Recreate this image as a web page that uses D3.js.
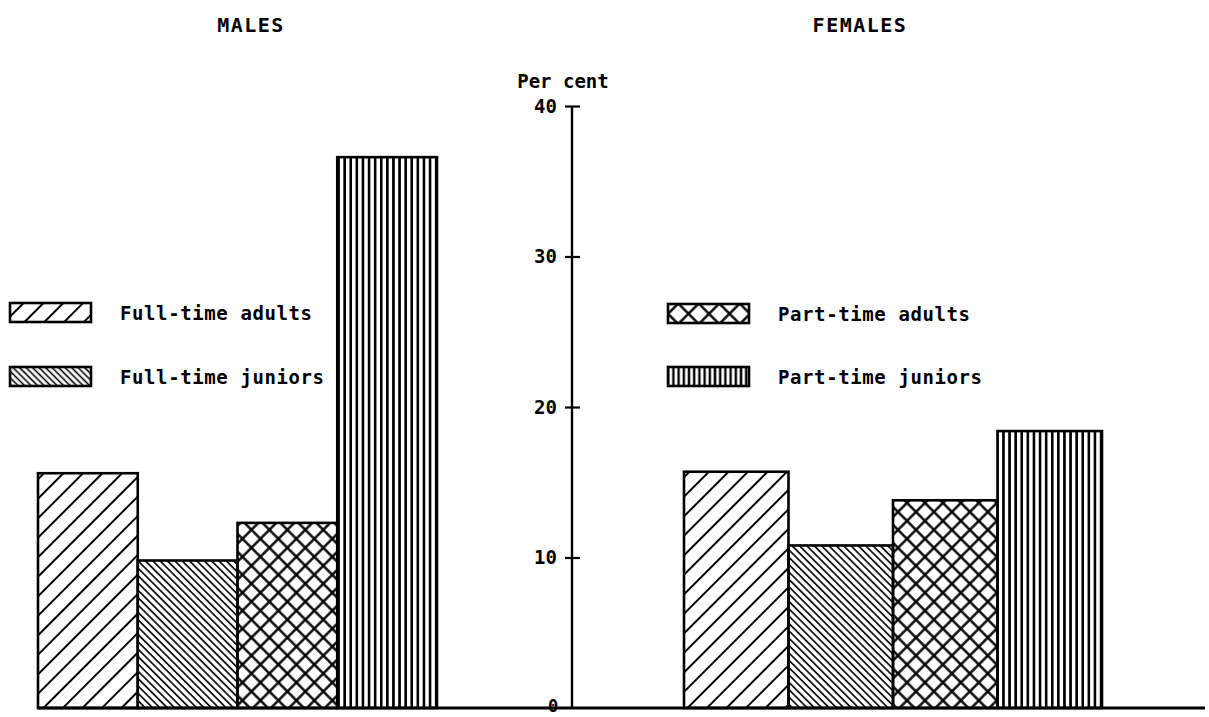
<!DOCTYPE html>
<html><head><meta charset="utf-8">
<script src="https://cdn.jsdelivr.net/npm/d3@7"></script>
<style>body{margin:0;background:#fff}svg{display:block}</style>
</head><body>
<script>
const categories = ["Full-time adults","Full-time juniors","Part-time adults","Part-time juniors"];
const maleValues = [15.6, 9.8, 12.3, 36.6];
const femaleValues = [15.7, 10.8, 13.8, 18.4];
const yTicks = [0, 10, 20, 30, 40];
const groupTitles = ["MALES", "FEMALES"];
const yTitle = "Per cent";

const W = 1209, H = 717;
const svg = d3.select("body").append("svg").attr("width", W).attr("height", H);
const FONT = "'DejaVu Sans Mono', 'Liberation Mono', monospace";

const defs = svg.append("defs");
function linePat(id, spacing, angle, sw) {
  const p = defs.append("pattern").attr("id", id).attr("patternUnits", "userSpaceOnUse")
    .attr("width", spacing).attr("height", spacing).attr("patternTransform", `rotate(${angle})`);
  p.append("line").attr("x1", spacing/2).attr("x2", spacing/2).attr("y1", -1).attr("y2", spacing+1)
    .attr("stroke", "#000").attr("stroke-width", sw);
}
function crossPat(id, s, sw, tx, ty) {
  const p = defs.append("pattern").attr("id", id).attr("patternUnits", "userSpaceOnUse")
    .attr("width", s).attr("height", s).attr("patternTransform", `translate(${tx},${ty}) rotate(45)`);
  p.append("line").attr("x1", s/2).attr("x2", s/2).attr("y1", -1).attr("y2", s+1).attr("stroke", "#000").attr("stroke-width", sw);
  p.append("line").attr("y1", s/2).attr("y2", s/2).attr("x1", -1).attr("x2", s+1).attr("stroke", "#000").attr("stroke-width", sw);
}
linePat("p0", 13.8, 45, 2);
linePat("p1", 5.2, -45, 1.6);
crossPat("p2", 12.7, 2.4, 0, 0);
linePat("p3", 6.1, 0, 2.6);
const patIds = ["p0","p1","p2","p3"];
// legend variants
linePat("l0", 14, 45, 2);
linePat("l1", 4.6, -45, 1.6);
crossPat("l2", 14.5, 2.4, 668, 303.5);
linePat("l3", 5.2, 0, 2.4);
const legIds = ["l0","l1","l2","l3"];

const y = d3.scaleLinear().domain([0, 40]).range([708, 106]);
const xM = d3.scaleBand().domain(categories).range([38, 437]).paddingInner(0);
const xF = d3.scaleBand().domain(categories).range([684, 1102]).paddingInner(0);

function drawGroup(xs, vals) {
  svg.append("g").selectAll("rect").data(categories).join("rect")
    .attr("x", d => xs(d)).attr("width", xs.bandwidth())
    .attr("y", (d,i) => y(vals[i])).attr("height", (d,i) => y(0) - y(vals[i]))
    .attr("fill", (d,i) => `url(#${patIds[i]})`)
    .attr("stroke", "#000").attr("stroke-width", 2.6);
}
drawGroup(xM, maleValues);
drawGroup(xF, femaleValues);

// baseline
svg.append("line").attr("x1", 38).attr("x2", 1205).attr("y1", y(0)).attr("y2", y(0))
  .attr("stroke", "#000").attr("stroke-width", 2.8);

// axis
const ax = svg.append("g").attr("transform", "translate(572,0)")
  .call(d3.axisLeft(y).tickValues(yTicks.filter(t => t > 0)).tickSizeInner(7).tickSizeOuter(0).tickPadding(8).tickFormat(d3.format("d")));
ax.select(".domain").attr("stroke-width", 2.4).attr("d", `M0,${y(0)}V${y(40)}`);
ax.selectAll(".tick line").attr("x1", 8).attr("x2", -7).attr("stroke-width", 2.2);
ax.selectAll(".tick text").attr("font-family", FONT).attr("font-weight", "bold").attr("font-size", 19).attr("fill", "#000");
svg.append("text").attr("x", 553).attr("y", y(0) - 2).attr("dy", "0.35em").attr("text-anchor", "middle")
  .attr("font-family", FONT).attr("font-weight", "bold").attr("font-size", 17).text(d3.format("d")(yTicks[0]));

svg.append("text").attr("x", 563).attr("y", 88).attr("text-anchor", "middle")
  .attr("font-family", FONT).attr("font-weight", "bold").attr("font-size", 19).text(yTitle);

// titles
[[251, groupTitles[0]], [860, groupTitles[1]]].forEach(([cx, t]) => {
  svg.append("text").attr("x", cx).attr("y", 32).attr("text-anchor", "middle")
    .attr("font-family", FONT).attr("font-weight", "bold").attr("font-size", 20)
    .attr("letter-spacing", 1.5).text(t);
});

// legends
const legendPos = [[10, 303, 120], [10, 367, 120], [668, 304, 778], [668, 367, 778]];
categories.forEach((c, i) => {
  const [bx, by, tx] = legendPos[i];
  svg.append("rect").attr("x", bx).attr("y", by).attr("width", 81).attr("height", 19)
    .attr("fill", `url(#${legIds[i]})`).attr("stroke", "#000").attr("stroke-width", 2.6);
  svg.append("text").attr("x", tx).attr("y", by + 10).attr("dy", "0.35em")
    .attr("font-family", FONT).attr("font-weight", "bold").attr("font-size", 19)
    .attr("letter-spacing", 0.6).text(c);
});
</script>
</body></html>
